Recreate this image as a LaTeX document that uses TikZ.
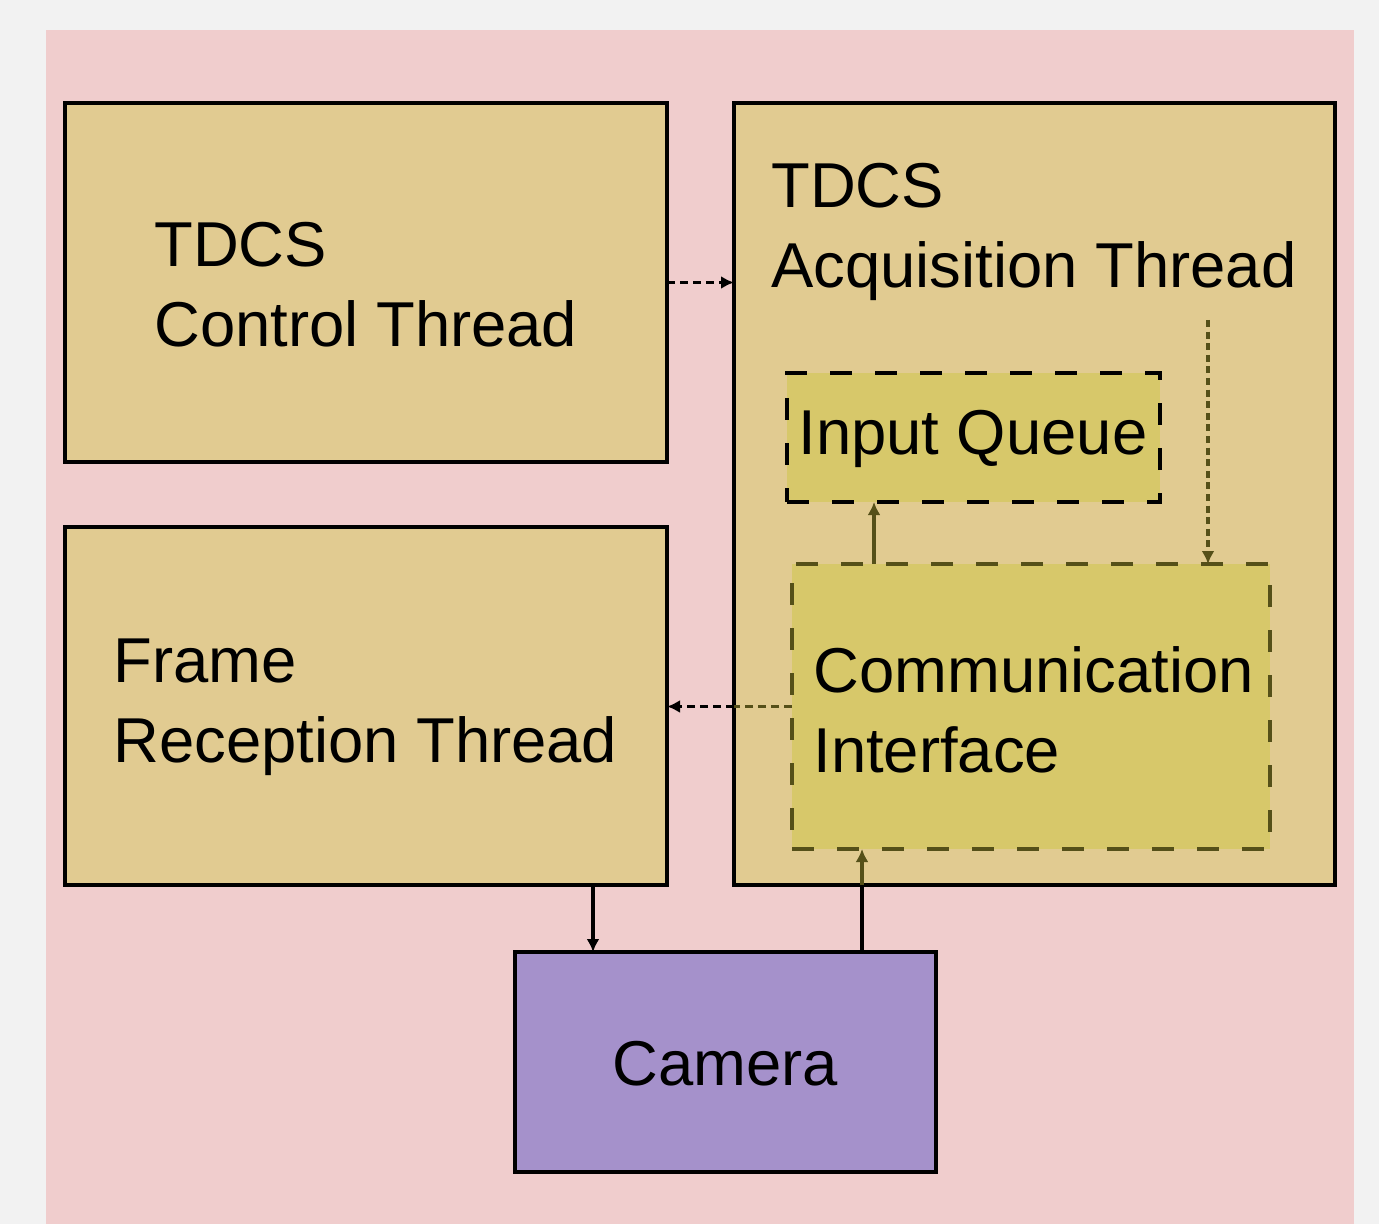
\documentclass[tikz,border=0pt]{standalone}
\usepackage{fontspec}
\setmainfont{Liberation Sans}
\usetikzlibrary{arrows.meta}

\definecolor{pagegray}{RGB}{242,242,242}
\definecolor{pinkbg}{RGB}{240,205,205}
\definecolor{threadtan}{RGB}{225,203,145}
\definecolor{ifyellow}{RGB}{215,200,106}
\definecolor{campurple}{RGB}{165,145,203}
\definecolor{olive}{RGB}{85,80,25}

\tikzset{
  box/.style={draw=black, line width=1.7pt, inner sep=0pt, outer sep=0pt, anchor=north west},
  dashbox/.style={box, dash pattern=on 11pt off 11.5pt},
  label/.style={inner sep=0pt, anchor=base west, align=left,
    font=\fontsize{31.7pt}{40pt}\selectfont},
  tip/.style={-{Latex[length=6.5pt,width=6.5pt]}},
  msg/.style={tip, line width=1.7pt, dash pattern=on 4pt off 2.5pt},
  poll/.style={tip, line width=1.6pt, olive, dash pattern=on 3.5pt off 2.3pt}
}

\begin{document}
\begin{tikzpicture}[x=0.5pt,y=-0.5pt]
      \fill[pagegray] (0,0) rectangle (1379,1224);
      \useasboundingbox (0,0) rectangle (1379,1224);
      \fill[pinkbg] (46,30) rectangle (1354,1224);

      %%%%  Threads
      \node[box, fill=threadtan, minimum width=301pt, minimum height=179.5pt]
        (ctl) at (65,103) {};
      \node[box, fill=threadtan, minimum width=300.5pt, minimum height=391pt]
        (acq) at (734,103) {};
      \node[box, fill=threadtan, minimum width=301pt, minimum height=179pt]
        (frame) at (65,527) {};

      %%%%  inside the acquisition thread
      \node[dashbox, fill=ifyellow, minimum width=186.5pt, minimum height=64.5pt]
        (queue) at (787,373) {};
      \node[dashbox, draw=olive, fill=ifyellow, minimum width=239pt, minimum height=142.5pt]
        (comm) at (792,564) {};

      %%%%  Camera
      \node[box, fill=campurple, minimum width=210.5pt, minimum height=110pt]
        (cam) at (515,952) {};

      %%%%  Connectors
      \draw[msg] (ctl.east) -- (acq.west |- ctl.east);

      \coordinate (commout) at (acq.west |- comm.west);
      \draw[line width=1.7pt, olive, dash pattern=on 4pt off 2.5pt] (comm.west) -- (commout);
      \draw[msg] (commout) -- (frame.east |- commout);

      \coordinate (fdown) at (593,885);
      \draw[tip, line width=1.7pt] (fdown) -- (fdown |- cam.north);

      \coordinate (camup) at (862,952);
      \coordinate (acqin) at (camup |- acq.south);
      \draw[line width=1.7pt] (camup) -- (acqin);
      \draw[tip, line width=1.7pt, olive] (acqin) -- (camup |- comm.south);

      \coordinate (qup) at (874,564);
      \draw[tip, line width=1.7pt, olive] (qup) -- (qup |- queue.south);

      \coordinate (pollin) at (1208,320);
      \draw[poll] (pollin) -- (pollin |- comm.north);

      %%%%  Texts (base is the last line)
      \node[label] (ctltext) at (154,347) {TDCS\\Control Thread};
      \node[label] (acqtext) at (771,288) {TDCS\\Acquisition Thread};
      \node[label] (queuetext) at (798,454) {Input Queue};
      \node[label] (commtext) at (813,772) {Communication\\Interface};
      \node[label] (frametext) at (113,762) {Frame\\Reception Thread};
      \node[label, anchor=base] (camtext) at (725.5,1085) {Camera};
    \end{tikzpicture}
\end{document}
